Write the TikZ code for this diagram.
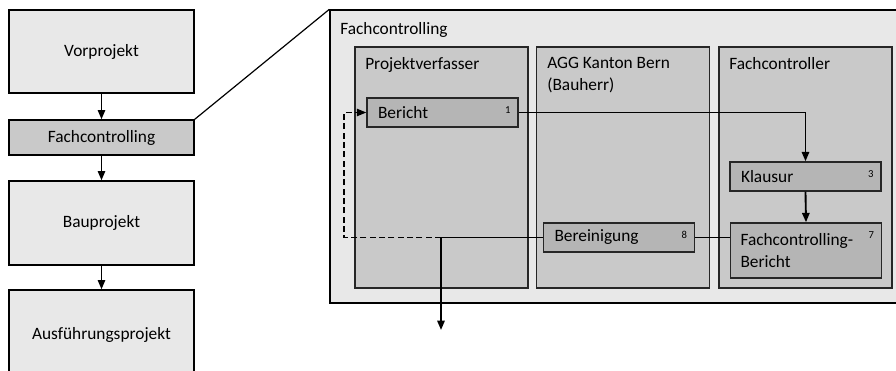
\documentclass[tikz,border=0pt]{standalone}
\usepackage{fontspec}
\setmainfont{Carlito}
\usetikzlibrary{arrows.meta}

\definecolor{hell}{gray}{0.91}
\definecolor{mittel}{gray}{0.79}
\definecolor{dunkel}{gray}{0.71}

\newcommand{\textgr}{\fontsize{13}{16.5}\selectfont}

\tikzset{
	phase/.style={draw,line width=1pt,fill=hell,minimum width=138.75pt,font=\textgr},
	lane/.style={draw=black!85,line width=1.1pt,fill=mittel,minimum width=129.75pt,minimum height=180.75pt},
	lanetitle/.style={anchor=north west,inner sep=0pt,align=left,font=\textgr},
	task/.style={draw=black!85,line width=1.1pt,fill=dunkel,text width=96.75pt,inner xsep=8.25pt,align=left,minimum height=21.75pt,font=\textgr},
	nr/.style={inner sep=0pt,font=\fontsize{8}{9}\selectfont},
	flow/.style={line width=1.4pt,-{Triangle[length=7pt,width=5.5pt]}}
}

\begin{document}
\begin{tikzpicture}[x=0.75pt,y=-0.75pt]
	\clip (0,0) rectangle (896,371);
	
	% Phasen links
	\node (vor) [phase,minimum height=62.25pt] at (101.5,51.5) {Vorprojekt};
	\node (fcl) [phase,fill=mittel,minimum height=26.25pt] at (101.5,137.5) {Fachcontrolling};
	\node (bau) [phase,minimum height=63pt] at (101.5,223) {Bauprojekt};
	\node (ausf) [phase,minimum height=67.5pt] at (101.5,335) {Ausführungsprojekt};
	
	\foreach \a/\b in {vor/fcl,fcl/bau,bau/ausf}
	\draw [flow] (\a) -- (\b);
	
	% Detail Fachcontrolling
	\node (detail) [draw,line width=1pt,fill=hell,minimum width=431.25pt,minimum height=219.75pt] at (617.5,156.5) {};
	\node (detailtitle) [lanetitle] at (340,22) {Fachcontrolling};
	\draw [line width=0.9pt] (fcl.north east) -- (detail.north west);
	
	\node (pv) [lane] at (441.5,167.5) {};
	\node (agg) [lane] at (623,167.5) {};
	\node (fc) [lane] at (805.5,167.5) {};
	
	\node (pvtitle) [lanetitle] at (365,57) {Projektverfasser};
	\node (aggtitle) [lanetitle] at (547,57) {AGG Kanton Bern\\(Bauherr)};
	\node (fctitle) [lanetitle] at (729,57) {Fachcontroller};
	
	% Schritte
	\node (bericht) [task] at (442.5,112.5) {Bericht};
	\node (klausur) [task] at (805.5,176.5) {Klausur};
	\node (bereinigung) [task] at (619,237.5) {Bereinigung};
	\node (fcbericht) [task,minimum height=41.25pt,inner xsep=7.5pt,text width=98.25pt] at (806,250.5) {Fachcontrolling-\\Bericht};
	
	\foreach \t/\n in {bericht/1,klausur/3,bereinigung/8,fcbericht/7}
	\node (nr\n) [nr] at ([xshift=-8.25pt,yshift=-9.75pt]\t.north east) {\n};
	
	\coordinate (ausgang) at (441,330);
	\coordinate (zurueck) at (344,237.5);
	
	\draw [flow] (bericht.east) -| (klausur.north);
	\draw [flow] (klausur.south) -- (fcbericht.north);
	\draw [line width=1.4pt] (bereinigung.east) -- (bereinigung.east -| fcbericht.west);
	\draw [flow] (bereinigung.west) -| (ausgang);
	\draw [line width=1pt,dash pattern=on 4.5pt off 2.5pt,-{Triangle[length=7pt,width=5.5pt]}] (bereinigung.west -| ausgang) -- (zurueck) |- (bericht.west);
\end{tikzpicture}
\end{document}
